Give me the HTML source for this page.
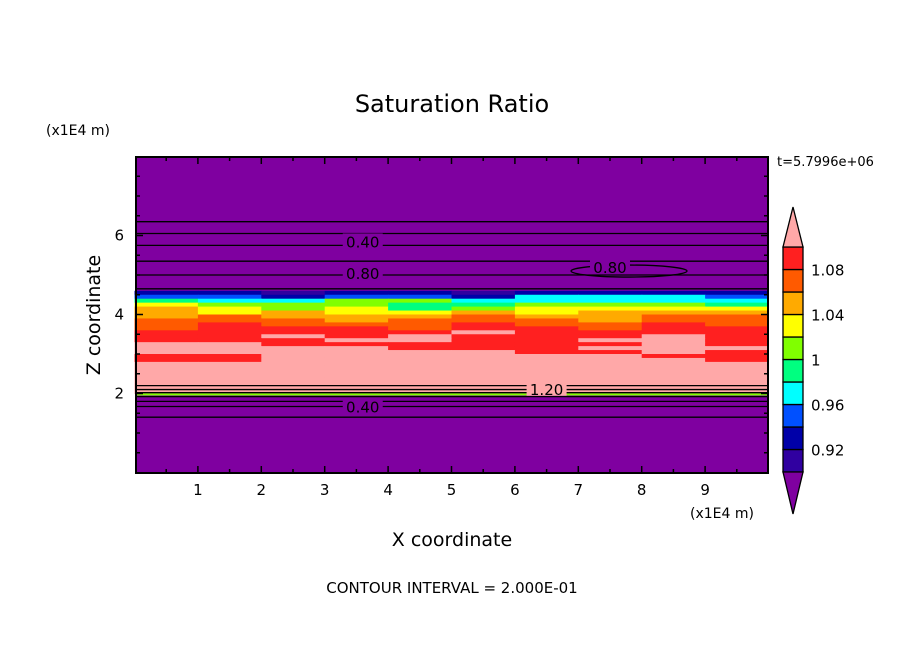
<!DOCTYPE html>
<html><head><meta charset="utf-8"><style>
body{margin:0;background:#fff;}
svg text{font-family:"DejaVu Sans","Liberation Sans",sans-serif;fill:#000;}
</style></head><body>
<svg id="c" width="904" height="654" viewBox="0 0 904 654" xmlns="http://www.w3.org/2000/svg">
<rect width="904" height="654" fill="#fff"/>
<text x="452" y="112" font-size="24" text-anchor="middle">Saturation Ratio</text>
<text x="46" y="135" font-size="14">(x1E4 m)</text>
<text x="777" y="166" font-size="13">t=5.7996e+06</text>
<text x="690" y="518" font-size="14">(x1E4 m)</text>
<text x="452" y="546" font-size="19" text-anchor="middle">X coordinate</text>
<text x="100" y="315" font-size="19" text-anchor="middle" transform="rotate(-90 100 315)">Z coordinate</text>
<text x="452" y="593" font-size="15" text-anchor="middle">CONTOUR INTERVAL = 2.000E-01</text>
<g id="plot"></g>
<g id="cbar"></g>
</svg>
<script>
const levels=[0.90,0.92,0.94,0.96,0.98,1.00,1.02,1.04,1.06,1.08,1.10];
const colors=["#7f00a0","#3000a0","#0000a8","#0050ff","#00ffff","#00ff80","#80ff00","#ffff00","#ffaa00","#ff5a00","#ff2020","#ffa8a8"];
const cbarLabels=[0.92,0.96,1,1.04,1.08];
const xTicks=[1,2,3,4,5,6,7,8,9];
const zTicks=[2,4,6];
const zRows=[4.55,4.45,4.35,4.25,4.15,4.05,3.95,3.85,3.75,3.65,3.55,3.45,3.35,3.25,3.15,3.05,2.95,2.85,2.75,2.65,2.55,2.45,2.35,2.25,2.15,2.05];
const xCols=[0.5,1.5,2.5,3.5,4.5,5.5,6.5,7.5,8.5,9.5];
const field=[
[0.92,0.92,0.91,0.92,0.92,0.91,0.92,0.93,0.93,0.92],
[0.94,0.94,0.93,0.94,0.94,0.93,0.96,0.97,0.97,0.95],
[0.99,0.97,0.96,1.00,1.01,0.97,0.96,0.97,0.96,0.97],
[1.03,1.01,1.00,1.01,0.99,0.99,1.01,1.01,1.00,0.99],
[1.05,1.03,1.01,1.03,0.99,1.01,1.03,1.03,1.03,1.02],
[1.04,1.03,1.04,1.03,1.03,1.04,1.03,1.04,1.05,1.05],
[1.05,1.06,1.05,1.04,1.05,1.06,1.05,1.05,1.06,1.06],
[1.06,1.07,1.06,1.05,1.06,1.07,1.06,1.05,1.07,1.07],
[1.07,1.08,1.07,1.06,1.07,1.08,1.07,1.06,1.08,1.07],
[1.07,1.09,1.08,1.08,1.07,1.09,1.08,1.07,1.08,1.08],
[1.08,1.09,1.09,1.09,1.08,1.10,1.09,1.08,1.09,1.09],
[1.09,1.08,1.10,1.09,1.11,1.09,1.08,1.09,1.10,1.09],
[1.09,1.09,1.09,1.11,1.10,1.09,1.09,1.10,1.11,1.09],
[1.11,1.11,1.09,1.09,1.09,1.09,1.08,1.09,1.11,1.09],
[1.11,1.11,1.11,1.10,1.09,1.09,1.09,1.11,1.11,1.11],
[1.11,1.11,1.11,1.11,1.11,1.11,1.09,1.09,1.11,1.08],
[1.09,1.09,1.11,1.11,1.11,1.11,1.11,1.11,1.09,1.09],
[1.09,1.09,1.11,1.11,1.11,1.11,1.11,1.11,1.11,1.09],
[1.11,1.11,1.11,1.11,1.11,1.11,1.11,1.11,1.11,1.11],
[1.12,1.12,1.12,1.12,1.12,1.12,1.12,1.12,1.12,1.12],
[1.12,1.12,1.12,1.12,1.12,1.12,1.12,1.12,1.12,1.12],
[1.12,1.12,1.12,1.12,1.12,1.12,1.12,1.12,1.12,1.12],
[1.12,1.12,1.12,1.12,1.12,1.12,1.12,1.12,1.12,1.12],
[1.12,1.12,1.12,1.12,1.12,1.12,1.12,1.12,1.12,1.12],
[1.12,1.12,1.12,1.12,1.12,1.12,1.12,1.12,1.12,1.12],
[1.12,1.12,1.12,1.12,1.12,1.12,1.12,1.12,1.12,1.12]];
const contourZ=[6.35,6.05,5.75,5.35,5.0,4.65,2.2,2.1,2.02,1.92,1.8,1.67,1.4];
const contourLabels=[["0.40",3.6,5.85],["0.80",3.6,5.05],["0.80",7.5,5.2],["1.20",6.5,2.12],["0.40",3.6,1.67]];
const NS="http://www.w3.org/2000/svg";
const X0=136,X1=768,Y0=157,Y1=473;
const sx=v=>134.5+v*63.4;
const sz=v=>472.5-v*39.5;
const colorFor=v=>{let i=0;while(i<levels.length&&v>=levels[i])i++;return colors[i];};
function mk(t,a,p){const e=document.createElementNS(NS,t);for(const k in a)e.setAttribute(k,a[k]);p.appendChild(e);return e;}
const plot=document.getElementById('plot');
const bg=mk('rect',{x:X0,y:Y0,width:X1-X0,height:Y1-Y0,fill:colors[0]},plot);


const cw=xCols[1]-xCols[0], rh=zRows[0]-zRows[1];
zRows.forEach((z,i)=>{xCols.forEach((x,j)=>{
  const c=mk('rect',{x:sx(x-cw/2),y:sz(z+rh/2),width:sx(x+cw/2)-sx(x-cw/2)+0.5,height:sz(z-rh/2)-sz(z+rh/2)+0.5,fill:colorFor(field[i][j])},plot);
  
  
});});
const strip=mk('rect',{x:X0,y:sz(2.0),width:X1-X0,height:2,fill:"#80ff00"},plot);


contourZ.forEach(z=>{
  const l=mk('line',{x1:X0,x2:X1,y1:sz(z),y2:sz(z),stroke:"#000","stroke-width":1.3},plot);
  
  
});
const ell=mk('ellipse',{cx:sx(7.8),cy:sz(5.1),rx:58,ry:6,fill:"none",stroke:"#000","stroke-width":1.3},plot);


contourLabels.forEach(([t,x,z])=>{
  const inside=z>zRows[zRows.length-1]-rh/2&&z<zRows[0]+rh/2;
  const b=mk('rect',{x:sx(x)-20,y:sz(z)-8,width:40,height:15,fill:inside?colorFor(1.12):colors[0]},plot);
  
  
  const tx=mk('text',{x:sx(x),y:sz(z)+6,"font-size":15,"text-anchor":"middle"},plot);
  tx.textContent=t;
  
  
});
const fr=mk('rect',{x:X0,y:Y0,width:X1-X0,height:Y1-Y0,fill:"none",stroke:"#000","stroke-width":2},plot);


for(let v=0.5;v<10;v+=0.5){
  const len=Number.isInteger(v)?7:4;
  mk('line',{x1:sx(v),x2:sx(v),y1:Y1,y2:Y1-len,stroke:"#000","stroke-width":1.5},plot);
  mk('line',{x1:sx(v),x2:sx(v),y1:Y0,y2:Y0+len,stroke:"#000","stroke-width":1.5},plot);
}
for(let v=0.5;v<8;v+=0.5){
  const len=Number.isInteger(v)&&v%2==0?7:4;
  mk('line',{x1:X0,x2:X0+len,y1:sz(v),y2:sz(v),stroke:"#000","stroke-width":1.5},plot);
  mk('line',{x1:X1,x2:X1-len,y1:sz(v),y2:sz(v),stroke:"#000","stroke-width":1.5},plot);
}
xTicks.forEach(v=>{const t=mk('text',{x:sx(v),y:Y1+22,"font-size":15,"text-anchor":"middle"},plot);t.textContent=v;
  
  });
zTicks.forEach(v=>{const t=mk('text',{x:X0-12,y:sz(v)+5,"font-size":15,"text-anchor":"end"},plot);t.textContent=v;
  
  });
const cb=document.getElementById('cbar');
const CX=783,CW=20,CB=472,CT=247;
const cy=v=>CB-(v-levels[0])/(levels[levels.length-1]-levels[0])*(CB-CT);
for(let i=0;i<levels.length-1;i++){
  const r=mk('rect',{x:CX,y:cy(levels[i+1]),width:CW,height:cy(levels[i])-cy(levels[i+1]),fill:colors[i+1],stroke:"#000","stroke-width":1.3},cb);
  
  
}
const tt=mk('polygon',{points:`${CX},${CT} ${CX+CW},${CT} ${CX+CW/2},207`,fill:colors[colors.length-1],stroke:"#000","stroke-width":1.3},cb);


const bt=mk('polygon',{points:`${CX},${CB} ${CX+CW},${CB} ${CX+CW/2},514`,fill:colors[0],stroke:"#000","stroke-width":1.3},cb);


cbarLabels.forEach(v=>{const t=mk('text',{x:811,y:cy(v)+6,"font-size":15},cb);t.textContent=v;
  
  });
</script>
</body></html>
